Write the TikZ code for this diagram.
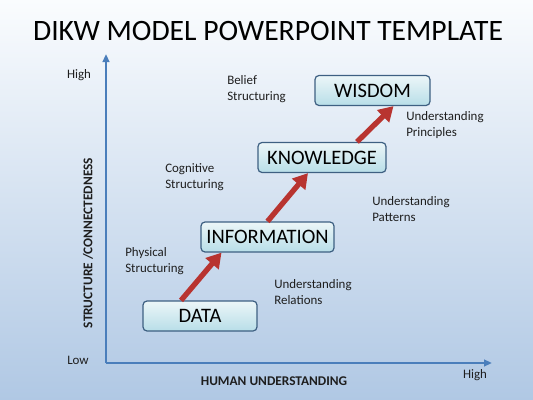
\documentclass[tikz,border=0pt]{standalone}
\usepackage{fontspec}
\setmainfont{Carlito}
\usetikzlibrary{arrows.meta}
\definecolor{axisblue}{RGB}{74,126,187}
\definecolor{boxline}{RGB}{62,96,130}
\definecolor{boxtop}{RGB}{236,246,248}
\definecolor{boxbot}{RGB}{184,222,232}
\definecolor{redarrow}{RGB}{184,52,48}
\definecolor{bgtop}{RGB}{250,252,254}
\definecolor{bgbot}{RGB}{176,200,228}
\definecolor{txt}{RGB}{30,30,30}
\tikzset{
  stage/.style={draw=boxline, line width=0.9pt, rounded corners=3pt, top color=boxtop, bottom color=boxbot, font=\fontsize{15.4}{17}\selectfont, text=black, inner sep=0pt},
  lbl/.style={font=\fontsize{9.7}{12}\selectfont, align=left, anchor=north west, inner sep=0pt, text=txt},
  axislbl/.style={font=\fontsize{9.7}{11}\selectfont, inner sep=0pt, text=txt},
  axisbold/.style={font=\bfseries\fontsize{10}{11}\selectfont, inner sep=0pt, text=txt},
  axis/.style={draw=axisblue, line width=1.5pt, -{Triangle[length=6pt,width=5pt]}},
  up/.style={draw=redarrow, line width=4pt, -{Triangle[length=11pt,width=12.5pt]}}
}
\begin{document}
\begin{tikzpicture}[x=0.75pt,y=-0.75pt]
\shade[top color=bgtop, bottom color=bgbot] (0,0) rectangle (533,400);
\useasboundingbox (0,0) rectangle (533,400);
\node[font=\fontsize{22.2}{26}\selectfont, text=black] (title) at (268,31) {DIKW MODEL POWERPOINT TEMPLATE};
% axes
\coordinate (origin) at (106,363);
\coordinate (ytop) at (106,54);
\coordinate (xend) at (492,363);
\draw[axis] (origin) -- (ytop);
\draw[axis] (origin) -- (xend);
\node[axislbl] (yhigh) at (79,75) {High};
\node[axislbl] (ylow) at (78,360) {Low};
\node[axislbl] (xhigh) at (475,375) {High};
\node[axisbold] (xlab) at (274,381) {HUMAN UNDERSTANDING};
\node[axisbold, rotate=90] (ylab) at (88,243) {STRUCTURE /CONNECTEDNESS};
% boxes
\node[stage, minimum width=114pt*0.75, minimum height=30pt*0.75] (data) at (200,316) {DATA};
\node[stage, minimum width=133pt*0.75, minimum height=30pt*0.75] (info) at (267.5,237) {INFORMATION};
\node[stage, minimum width=128pt*0.75, minimum height=30pt*0.75] (know) at (322,157.5) {KNOWLEDGE};
\node[stage, minimum width=115pt*0.75, minimum height=30pt*0.75] (wis) at (372.5,90.5) {WISDOM};
% arrows
\draw[up] ([xshift=-19*0.75pt]data.north) -- ([xshift=-46*0.75pt]info.south);
\draw[up] ([xshift=0pt]info.north) -- ([xshift=-14*0.75pt]know.south);
\draw[up] ([xshift=35*0.75pt]know.north) -- ([xshift=21*0.75pt]wis.south);
% labels
\node[lbl] (phys) at (125,247) {Physical\\Structuring};
\node[lbl] (cog) at (165,163) {Cognitive\\Structuring};
\node[lbl] (bel) at (227,75) {Belief\\Structuring};
\node[lbl] (urel) at (274,279) {Understanding\\Relations};
\node[lbl] (upat) at (372,196) {Understanding\\Patterns};
\node[lbl] (upri) at (406,111) {Understanding\\Principles};
\end{tikzpicture}
\end{document}
